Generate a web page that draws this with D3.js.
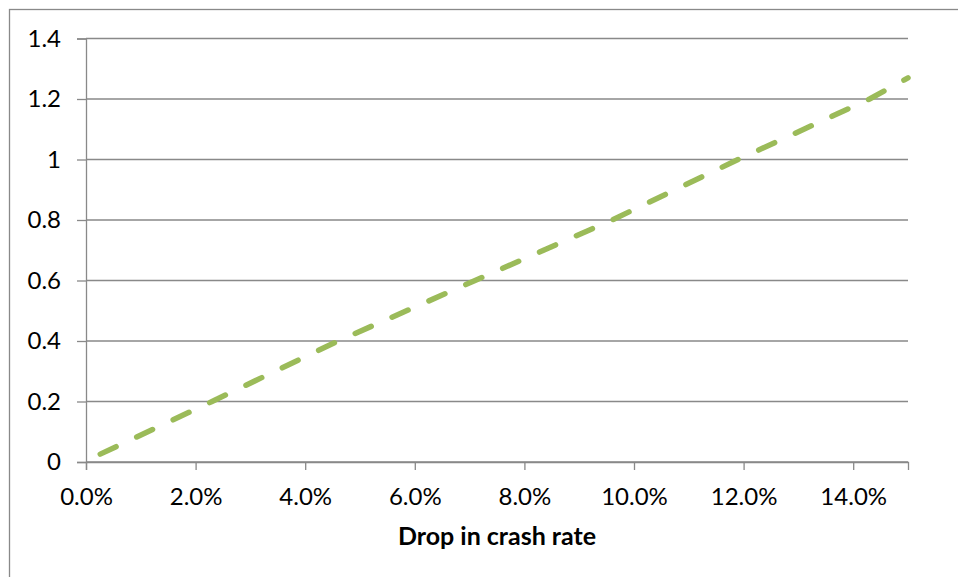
<!DOCTYPE html>
<html>
<head>
<meta charset="utf-8">
<script src="https://cdn.jsdelivr.net/npm/d3@7"></script>
<style>
  html, body { margin: 0; padding: 0; background: #fff; }
  svg { display: block; }
  text { font-family: Lato, "Open Sans", sans-serif; fill: #000; }
</style>
</head>
<body>
<svg id="chart" width="958" height="577"></svg>
<script>
// Drop in crash rate (x) against the plotted ratio (y)
const crashDrop = [0.0026, 0.023, 0.046, 0.071, 0.096, 0.119, 0.143, 0.150];
const ratio     = [0.026, 0.20, 0.40, 0.60, 0.80, 1.00, 1.20, 1.27];
const xTicks = [0, 0.02, 0.04, 0.06, 0.08, 0.10, 0.12, 0.14];
const yTicks = [0, 0.2, 0.4, 0.6, 0.8, 1, 1.2, 1.4];
const xTitle = "Drop in crash rate";

const svg = d3.select("#chart");
const left = 86;

// outer chart frame
svg.append("rect")
  .attr("x", 9.5).attr("y", 9.5)
  .attr("width", 960).attr("height", 580)
  .attr("fill", "none").attr("stroke", "#898989").attr("stroke-width", 1.3);

const x = d3.scaleLinear().domain([0, 0.15]).range([left, 908]);
const y = d3.scaleLinear().domain([0, 1.4]).range([462, 38.5]);

// horizontal gridlines
svg.append("g").selectAll("line").data(yTicks).join("line")
  .attr("x1", left).attr("x2", x(0.15))
  .attr("y1", d => y(d)).attr("y2", d => y(d))
  .attr("stroke", "#898989").attr("stroke-width", 1.3);

// y axis
const yAxis = svg.append("g").attr("transform", `translate(${left},0)`)
  .call(d3.axisLeft(y).tickValues(yTicks).tickFormat(d3.format("~g")).tickSize(9).tickPadding(16));
yAxis.select(".domain").attr("stroke", "#898989").attr("stroke-width", 1.3);
yAxis.selectAll(".tick line").attr("stroke", "#898989").attr("stroke-width", 1.3);
yAxis.selectAll(".tick text").attr("font-size", 24).attr("font-family", "Lato, sans-serif").attr("fill", "#000");

// x axis
const xAxis = svg.append("g").attr("transform", `translate(0,${y(0)})`)
  .call(d3.axisBottom(x).tickValues(xTicks).tickFormat(d3.format(".1%")).tickSize(8).tickPadding(18));
xAxis.select(".domain").attr("stroke", "#898989").attr("stroke-width", 1.3);
xAxis.selectAll(".tick line").attr("stroke", "#898989").attr("stroke-width", 1.3);
xAxis.selectAll(".tick text").attr("font-size", 24).attr("font-family", "Lato, sans-serif").attr("fill", "#000");

// axis title
svg.append("text")
  .attr("x", (x(0) + x(0.15)) / 2).attr("y", 545)
  .attr("text-anchor", "middle")
  .attr("font-size", 25).attr("font-weight", "bold")
  .text(xTitle);

// dashed series line
const pts = crashDrop.map((v, i) => [v, ratio[i]]);
svg.append("path")
  .datum(pts)
  .attr("fill", "none")
  .attr("stroke", "#9BBB59")
  .attr("stroke-width", 5.5)
  .attr("stroke-linecap", "round")
  .attr("stroke-dasharray", "17.5,22.8")
  .attr("d", d3.line().x(d => x(d[0])).y(d => y(d[1])));
</script>
</body>
</html>
